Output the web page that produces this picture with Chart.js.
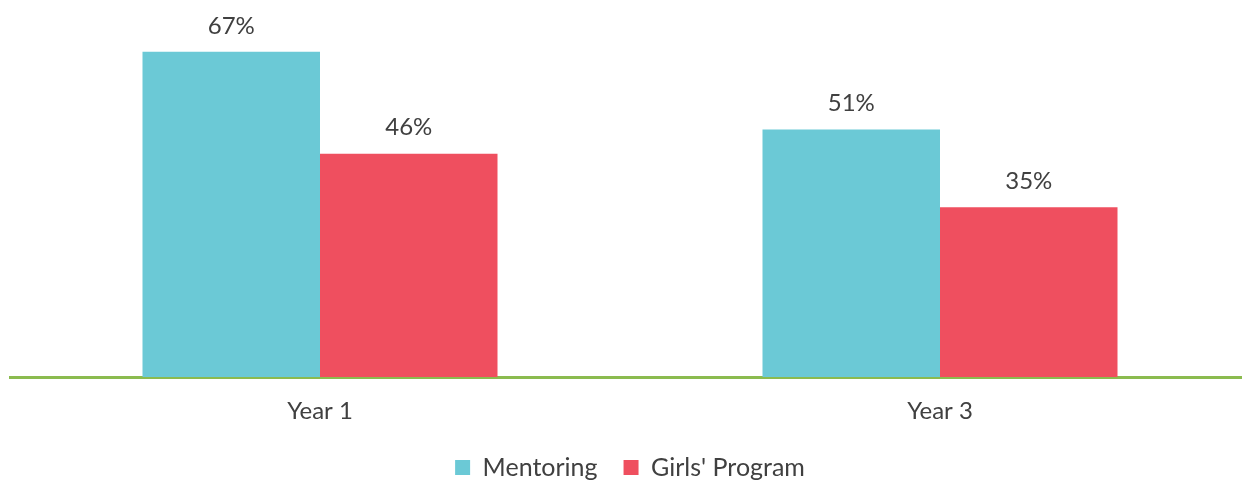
<!DOCTYPE html>
<html>
<head>
<meta charset="utf-8">
<script src="https://cdn.jsdelivr.net/npm/chart.js@4"></script>
<style>
  html, body { margin: 0; padding: 0; background: #fff; }
  #wrap { width: 1242px; height: 480px; overflow: hidden; }
</style>
</head>
<body>
<div id="wrap"><canvas id="myChart" width="1250" height="490"></canvas></div>
<script>
const categories = ["Year 1", "Year 3"];
const mentoring = [67, 51];
const girlsProgram = [46, 35];

const textColor = "#404040";
const fontFamily = "Lato, 'Open Sans', sans-serif";

// draws the percentage above each bar
const barLabels = {
  id: "barLabels",
  afterDatasetsDraw(chart) {
    const { ctx } = chart;
    ctx.save();
    ctx.fillStyle = textColor;
    ctx.font = "24px " + fontFamily;
    ctx.textAlign = "center";
    ctx.textBaseline = "bottom";
    chart.data.datasets.forEach((ds, i) => {
      chart.getDatasetMeta(i).data.forEach((bar, j) => {
        ctx.fillText(ds.data[j] + "%", bar.x, bar.y - 14);
      });
    });
    ctx.restore();
  },
};

const ctx = document.getElementById("myChart").getContext("2d");

const myChart = new Chart(ctx, {
  type: "bar",
  data: {
    labels: categories,
    datasets: [
      {
        label: "Mentoring",
        data: mentoring,
        backgroundColor: "#6BC9D6",
      },
      {
        label: "Girls' Program",
        data: girlsProgram,
        backgroundColor: "#EF4F5F",
      },
    ],
  },
  plugins: [barLabels],
  options: {
    responsive: false,
    animation: false,
    layout: {
      padding: { left: 10, right: 0, top: 13, bottom: 0 },
    },
    plugins: {
      legend: {
        position: "bottom",
        labels: {
          boxWidth: 15,
          boxHeight: 15,
          padding: 26,
          color: textColor,
          font: { family: fontFamily, size: 25 },
        },
      },
      tooltip: { enabled: false },
    },
    datasets: {
      bar: {
        categoryPercentage: 0.5726,
        barPercentage: 1,
      },
    },
    scales: {
      x: {
        grid: { display: false, drawTicks: false },
        border: { color: "#8BBB4F", width: 3 },
        ticks: {
          color: textColor,
          padding: 20,
          font: { family: fontFamily, size: 24 },
        },
        // keep the axis band tight so the legend sits close under the labels
        afterFit: (scale) => {
          scale.height = 52;
        },
      },
      y: {
        display: false,
        min: 0,
        max: 75,
      },
    },
  },
});
</script>
</body>
</html>
